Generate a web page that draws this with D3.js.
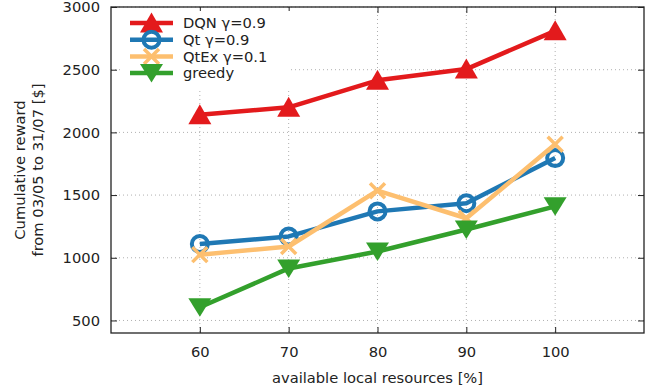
<!DOCTYPE html>
<html>
<head>
<meta charset="utf-8">
<script src="https://cdn.jsdelivr.net/npm/d3@7"></script>
<style>
  html, body { margin: 0; padding: 0; background: #fff; }
  svg { display: block; font-family: "DejaVu Sans", sans-serif; }
</style>
</head>
<body>
<svg id="chart" width="663" height="391"></svg>
<script>
// Cumulative reward vs. available local resources
const resources = [60, 70, 80, 90, 100];
const dqn    = [2140, 2200, 2415, 2505, 2810];
const qt     = [1110, 1170, 1370, 1435, 1795];
const qtex   = [1025, 1090, 1535, 1315, 1905];
const greedy = [605, 915, 1050, 1225, 1410];
const xTicks = [60, 70, 80, 90, 100];
const yTicks = [500, 1000, 1500, 2000, 2500, 3000];

const series = [
  { name: "DQN γ=0.9",   values: dqn,    color: "#e31a1c", marker: "up" },
  { name: "Qt γ=0.9",    values: qt,     color: "#1f78b4", marker: "circle" },
  { name: "QtEx γ=0.1",  values: qtex,   color: "#fdbf6f", marker: "x" },
  { name: "greedy",      values: greedy, color: "#33a02c", marker: "down" }
];

const FS = 14.7;
const svg = d3.select("#chart");
const m = { left: 111, right: 644, top: 7, bottom: 333 };

const x = d3.scaleLinear().domain([50, 110]).range([m.left, m.right]);
const y = d3.scaleLinear().domain([400, 3000]).range([m.bottom, m.top]);

// dotted grid
const grid = svg.append("g");
grid.selectAll(".gx").data(xTicks).join("line")
  .attr("x1", d => x(d)).attr("x2", d => x(d))
  .attr("y1", m.top).attr("y2", m.bottom)
  .attr("stroke", "#b0b0b0").attr("stroke-width", 1).attr("stroke-dasharray", "1,3");
grid.selectAll(".gy").data(yTicks).join("line")
  .attr("x1", m.left).attr("x2", m.right)
  .attr("y1", d => y(d)).attr("y2", d => y(d))
  .attr("stroke", "#b0b0b0").attr("stroke-width", 1).attr("stroke-dasharray", "1,3");

// axes with inward ticks on all four sides
const tickLen = 6;
const fmt = d3.format("d");
const axB = svg.append("g").attr("transform", `translate(0,${m.bottom})`)
  .call(d3.axisBottom(x).tickValues(xTicks).tickFormat(fmt).tickSizeInner(-tickLen).tickSizeOuter(0).tickPadding(14));
const axT = svg.append("g").attr("transform", `translate(0,${m.top})`)
  .call(d3.axisTop(x).tickValues(xTicks).tickSizeInner(-tickLen).tickSizeOuter(0).tickFormat(""));
const axL = svg.append("g").attr("transform", `translate(${m.left},0)`)
  .call(d3.axisLeft(y).tickValues(yTicks).tickFormat(fmt).tickSizeInner(-tickLen).tickSizeOuter(0).tickPadding(11));
const axR = svg.append("g").attr("transform", `translate(${m.right},0)`)
  .call(d3.axisRight(y).tickValues(yTicks).tickSizeInner(-tickLen).tickSizeOuter(0).tickFormat(""));
[axB, axT, axL, axR].forEach(a => {
  a.select(".domain").remove();
  a.selectAll(".tick line").attr("stroke", "#222").attr("stroke-width", 1);
  a.selectAll(".tick text").attr("font-size", FS).attr("fill", "#222")
    .attr("font-family", "DejaVu Sans, sans-serif");
});

// frame
svg.append("rect")
  .attr("x", m.left).attr("y", m.top)
  .attr("width", m.right - m.left).attr("height", m.bottom - m.top)
  .attr("fill", "none").attr("stroke", "#222").attr("stroke-width", 1.3);

// markers
function drawMarker(g, type, color, cx, cy) {
  if (type === "up") {
    g.append("path").attr("d", `M${cx},${cy - 10.5}L${cx + 11.5},${cy + 9.5}L${cx - 11.5},${cy + 9.5}Z`)
      .attr("fill", color);
  } else if (type === "down") {
    g.append("path").attr("d", `M${cx},${cy + 9.5}L${cx + 11.5},${cy - 9}L${cx - 11.5},${cy - 9}Z`)
      .attr("fill", color);
  } else if (type === "circle") {
    g.append("circle").attr("cx", cx).attr("cy", cy).attr("r", 8)
      .attr("fill", "none").attr("stroke", color).attr("stroke-width", 4);
  } else if (type === "x") {
    const s = 7.5;
    g.append("path").attr("d", `M${cx - s},${cy - s}L${cx + s},${cy + s}M${cx - s},${cy + s}L${cx + s},${cy - s}`)
      .attr("stroke", color).attr("stroke-width", 3.5).attr("fill", "none");
  }
}

const line = d3.line().x((d, i) => x(resources[i])).y(d => y(d));
const plot = svg.append("g");
series.forEach(s => {
  const g = plot.append("g");
  g.append("path").datum(s.values).attr("d", line)
    .attr("fill", "none").attr("stroke", s.color).attr("stroke-width", 4.5)
    .attr("stroke-linejoin", "round");
  s.values.forEach((v, i) => drawMarker(g, s.marker, s.color, x(resources[i]), y(v)));
});

// legend
const leg = svg.append("g");
leg.append("rect").attr("x", 121).attr("y", 11).attr("width", 170).attr("height", 78).attr("fill", "#fff");
series.forEach((s, i) => {
  const ly = 23 + i * 16.7;
  leg.append("line").attr("x1", 130).attr("x2", 173).attr("y1", ly).attr("y2", ly)
    .attr("stroke", s.color).attr("stroke-width", 4.5);
  drawMarker(leg, s.marker, s.color, 151.5, ly);
  leg.append("text").attr("x", 183).attr("y", ly).attr("dy", "0.36em")
    .attr("font-size", FS).attr("fill", "#222").text(s.name);
});

// axis titles
svg.append("text").attr("x", (m.left + m.right) / 2).attr("y", 383)
  .attr("text-anchor", "middle").attr("font-size", FS).attr("fill", "#222")
  .text("available local resources [%]");
const yl = svg.append("text").attr("transform", `translate(29,${(m.top + m.bottom) / 2}) rotate(-90)`)
  .attr("text-anchor", "middle").attr("font-size", FS).attr("fill", "#222");
yl.append("tspan").attr("x", 0).attr("dy", "-0.25em").text("Cumulative reward");
yl.append("tspan").attr("x", 0).attr("dy", "1.22em").text("from 03/05 to 31/07 [$]");
</script>
</body>
</html>
